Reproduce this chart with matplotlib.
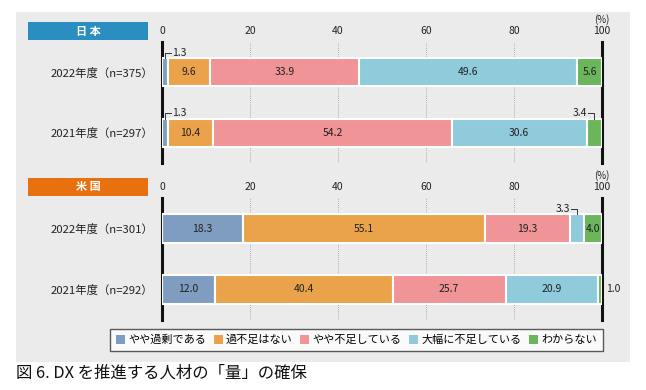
import matplotlib.pyplot as plt
from matplotlib.patches import Rectangle, Patch
import numpy as np

plt.rcParams['font.family'] = ['Noto Sans CJK JP', 'DejaVu Sans']

# データ
categories = ['やや過剰である', '過不足はない', 'やや不足している', '大幅に不足している', 'わからない']
colors = ['#7f9dc0', '#eba34b', '#f09497', '#8fcbdb', '#6bb55b']

jp_rows = ['2022年度（n=375）', '2021年度（n=297）']
jp_vals = [[1.3, 9.6, 33.9, 49.6, 5.6],
           [1.3, 10.4, 54.2, 30.6, 3.4]]
us_rows = ['2022年度（n=301）', '2021年度（n=292）']
us_vals = [[18.3, 55.1, 19.3, 3.3, 4.0],
           [12.0, 40.4, 25.7, 20.9, 1.0]]
ticks = [0, 20, 40, 60, 80, 100]

W, H = 646, 390
fig = plt.figure(figsize=(W / 100, H / 100), dpi=100)


def px(x0, y0, x1, y1):
    # pixel box -> figure fraction
    return [x0 / W, 1 - y1 / H, (x1 - x0) / W, (y1 - y0) / H]


# 背景パネル
b = px(16, 12, 630, 362)
fig.patches.append(Rectangle((b[0], b[1]), b[2], b[3], transform=fig.transFigure,
                             facecolor='#ebebeb', edgecolor='none', zorder=-10))


def header(y0, text, color):
    r = px(28, y0, 148, y0 + 18)
    fig.patches.append(Rectangle((r[0], r[1]), r[2], r[3], transform=fig.transFigure,
                                 facecolor=color, edgecolor='none'))
    fig.text(r[0] + r[2] / 2, r[1] + r[3] / 2, text, color='white', fontsize=8,
             fontweight='bold', ha='center', va='center')


def panel(rect, rows, vals, small):
    ax = fig.add_axes(rect)
    ax.set_facecolor('none')
    ax.set_xlim(0, 100)
    ax.set_ylim(1.5, -0.5)
    h = 0.47
    for i, row in enumerate(vals):
        left = 0
        for j, v in enumerate(row):
            ax.barh(i, v, left=left, height=h, color=colors[j], edgecolor='white',
                    linewidth=1.5, zorder=3)
            if v >= 4:
                ax.text(left + v / 2, i, f'{v:.1f}', ha='center', va='center',
                        fontsize=7.5, color='#222222', zorder=4)
            left += v
    # 小さい値の注記
    for (i, j, kind) in small:
        row = vals[i]
        start = sum(row[:j])
        v = row[j]
        mid = start + v / 2
        top = i - h / 2
        ly = i - h / 2 - 0.09
        if kind == 'left':
            ax.plot([mid, mid, mid + 1.4], [top, ly, ly], color='#333333', lw=0.7,
                    clip_on=False, zorder=5)
            ax.text(mid + 1.6, ly, f'{v:.1f}', ha='left', va='center', fontsize=7.5,
                    color='#222222')
        elif kind == 'right':
            ax.plot([mid, mid, mid - 1.4], [top, ly, ly], color='#333333', lw=0.7,
                    clip_on=False, zorder=5)
            ax.text(mid - 1.6, ly, f'{v:.1f}', ha='right', va='center', fontsize=7.5,
                    color='#222222')
        else:
            ax.text(101, i, f'{v:.1f}', ha='left', va='center', fontsize=7.5,
                    color='#222222')
    for t in ticks[1:-1]:
        ax.axvline(t, color='#999999', lw=0.6, ls=(0, (1, 1.5)), zorder=1)
    for s in ['top', 'bottom']:
        ax.spines[s].set_visible(False)
    for s in ['left', 'right']:
        ax.spines[s].set_linewidth(2.2)
        ax.spines[s].set_color('#111111')
    ax.xaxis.tick_top()
    ax.set_xticks(ticks)
    ax.set_xticklabels([str(t) for t in ticks])
    ax.tick_params(axis='x', length=0, pad=4, labelsize=7.5, colors='#222222')
    ax.set_yticks(range(len(rows)))
    ax.set_yticklabels(rows)
    ax.tick_params(axis='y', length=0, pad=6, labelsize=8.2, colors='#222222')
    ax.annotate('(%)', xy=(1, 1), xycoords='axes fraction', xytext=(0, 16),
                textcoords='offset points', ha='center', va='center', fontsize=7,
                color='#222222')
    return ax


header(22, '日 本', '#2a8fc0')
panel(px(162, 42, 602, 163), jp_rows, jp_vals,
      [(0, 0, 'left'), (1, 0, 'left'), (1, 4, 'right')])

header(178, '米 国', '#e8700e')
panel(px(162, 198, 602, 320), us_rows, us_vals,
      [(0, 3, 'right'), (1, 4, 'out')])

# 凡例
handles = [Patch(facecolor=c, edgecolor='none') for c in colors]
lb = px(110, 327, 603, 353)
leg = fig.legend(handles, categories, loc='center', bbox_to_anchor=tuple(lb), ncol=5,
                 mode='expand', frameon=True, fancybox=False, edgecolor='#333333',
                 handlelength=0.8, handleheight=0.8, handletextpad=0.3,
                 fontsize=8, borderaxespad=0, borderpad=0.55)
leg.get_frame().set_linewidth(1.0)
leg.get_frame().set_facecolor('white')

fig.text(16 / W, 1 - 373 / H, '図 6. DX を推進する人材の「量」の確保', fontsize=11.8,
         ha='left', va='center', color='#111111')

fig.savefig('out.png', dpi=100, facecolor='white')
